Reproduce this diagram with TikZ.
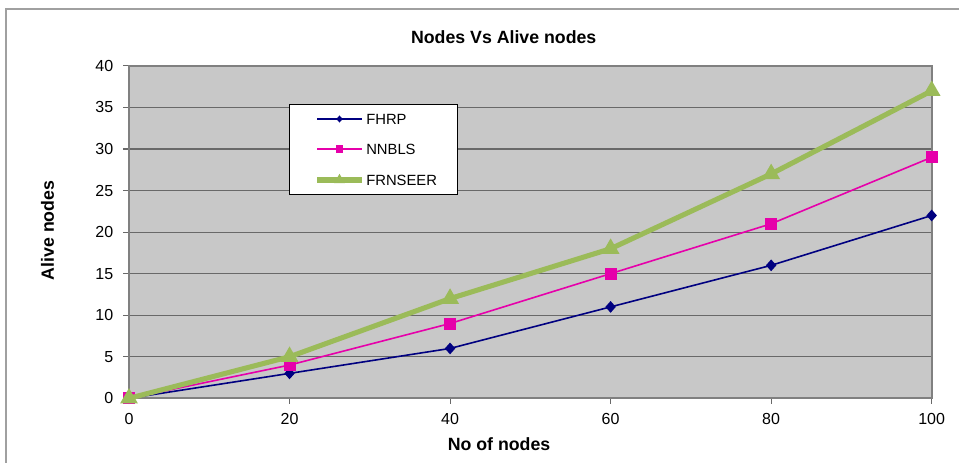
\documentclass[tikz,border=0pt]{standalone}
\usepackage{fontspec}
\setmainfont{Liberation Sans}
\usetikzlibrary{shapes.geometric}
\definecolor{fhrpblue}{RGB}{0,0,128}
\definecolor{nnblspink}{RGB}{230,0,170}
\definecolor{frngreen}{RGB}{155,187,89}
\definecolor{plotgray}{RGB}{200,200,200}
\definecolor{gridgray}{RGB}{105,105,105}
\definecolor{bordergray}{RGB}{128,128,128}
\definecolor{framegray}{RGB}{160,160,160}
\tikzstyle{axislabel} = [font=\fontsize{13.3}{16}\selectfont\bfseries]
\tikzstyle{ticklabel} = [font=\fontsize{12}{14}\selectfont,inner sep=0]
\tikzstyle{legendtext} = [font=\fontsize{11.1}{13}\selectfont,inner sep=0,anchor=west]
\tikzstyle{gridline} = [draw=gridgray,line width=0.8pt]
\tikzstyle{fhrpline} = [draw=fhrpblue,line width=1.2pt]
\tikzstyle{nnblsline} = [draw=nnblspink,line width=1.2pt]
\tikzstyle{frnline} = [draw=frngreen,line width=3.8pt,line join=round]
\tikzstyle{fhrpmark} = [diamond,fill=fhrpblue,inner sep=0,minimum width=8pt,minimum height=9pt]
\tikzstyle{nnblsmark} = [rectangle,fill=nnblspink,inner sep=0,minimum size=9pt]
\tikzstyle{frnmark} = [regular polygon,regular polygon sides=3,fill=frngreen,inner sep=0,minimum size=15.5pt]
\def \tk {4.5pt}

\begin{document}
\begin{tikzpicture}[x=0.75pt,y=0.75pt]
  \useasboundingbox (0,0) rectangle (959,462);
  % outer frame
  \draw[framegray,line width=1pt] (6,-10) -- (6,453) -- (970,453);
  \node[axislabel] (title) at (503.7,424.5) {Nodes Vs Alive nodes};
  \node[axislabel] (xlab) at (499,18) {No of nodes};
  \node[axislabel,rotate=90] (ylab) at (47.5,231.5) {Alive nodes};
  % plot area
  \begin{scope}[shift={(129,63.7)},x=6.02pt,y=6.2325pt]
    \fill[plotgray] (0,0) rectangle (100,40);
    \foreach \v in {5,10,...,35}
      \draw[gridline] (0,\v) -- (100,\v);
    \foreach \v in {0,5,...,40} {
      \draw[gridline] (0,\v) -- ++(-\tk,0);
      \node[ticklabel,anchor=east] (y\v) at ([xshift=-11.6pt]0,\v) {\v};
    }
    \foreach \v in {0,20,...,100} {
      \draw[gridline] (\v,0) -- ++(0,-\tk);
      \node[ticklabel,anchor=north] (x\v) at ([yshift=-11.4pt]\v,0) {\v};
    }
    \draw[bordergray,line width=1.5pt] (0,0) rectangle (100,40);
    % FHRP
    \foreach \x/\y [count=\i] in {0/0,20/3,40/6,60/11,80/16,100/22}
      \coordinate (f\i) at (\x,\y);
    \draw[fhrpline] (f1) -- (f2) -- (f3) -- (f4) -- (f5) -- (f6);
    \foreach \i in {1,...,6}
      \node[fhrpmark] at (f\i) {};
    % NNBLS
    \foreach \x/\y [count=\i] in {0/0,20/4,40/9,60/15,80/21,100/29}
      \coordinate (n\i) at (\x,\y);
    \draw[nnblsline] (n1) -- (n2) -- (n3) -- (n4) -- (n5) -- (n6);
    \foreach \i in {1,...,6}
      \node[nnblsmark] at (n\i) {};
    % FRNSEER
    \foreach \x/\y [count=\i] in {0/0,20/5,40/12,60/18,80/27,100/37}
      \coordinate (r\i) at (\x,\y);
    \draw[frnline] (r1) -- (r2) -- (r3) -- (r4) -- (r5) -- (r6);
    \foreach \i in {1,...,6}
      \node[frnmark] at (r\i) {};
  \end{scope}
  % legend
  \draw[black,fill=white,line width=0.6pt] (289,268) rectangle (457,357.5);
  \foreach \name/\sty/\mk/\yy in {FHRP/fhrpline/fhrpmark/343,NNBLS/nnblsline/nnblsmark/313,FRNSEER/frnline/frnmark/282} {
    \draw[\sty] (317,\yy) -- (362,\yy);
    \node[\mk,scale=0.6] at (339.5,\yy) {};
    \node[legendtext] (l\name) at (366,\yy) {\name};
  }
\end{tikzpicture}
\end{document}
